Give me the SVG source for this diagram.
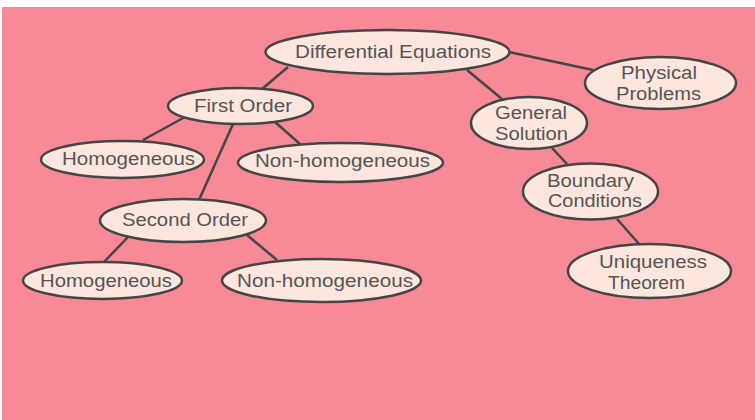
<svg xmlns="http://www.w3.org/2000/svg" width="755" height="420" viewBox="0 0 755 420">
<style>
.node ellipse{fill:#FDE6DD;stroke:#454545;stroke-width:2.5}
.node text{font-family:"Liberation Sans",Arial,sans-serif;font-size:18px;fill:#555;text-anchor:middle}
#edges line{stroke:#454545;stroke-width:2.5}
</style>
<rect x="0" y="0" width="755" height="420" fill="#ffffff"/>
<rect x="2" y="7" width="753" height="413" fill="#F78A96"/>
<g id="edges">
<line x1="288" y1="67" x2="262" y2="89"/>
<line x1="509" y1="52" x2="593" y2="70"/>
<line x1="467" y1="70" x2="502" y2="99"/>
<line x1="552" y1="148" x2="567" y2="164"/>
<line x1="617" y1="219" x2="640" y2="245"/>
<line x1="185" y1="117" x2="143" y2="140"/>
<line x1="275" y1="122" x2="300" y2="144"/>
<line x1="233" y1="124" x2="199" y2="200"/>
<line x1="128" y1="237" x2="103" y2="263"/>
<line x1="247" y1="235" x2="277" y2="260"/>
</g>
<g id="n-de" class="node"><ellipse cx="387.5" cy="52" rx="122" ry="22"/><text x="393" y="57.5" textLength="196" lengthAdjust="spacingAndGlyphs">Differential Equations</text></g>
<g id="n-first" class="node"><ellipse cx="240.5" cy="106" rx="72.5" ry="18"/><text x="243" y="112" textLength="98" lengthAdjust="spacingAndGlyphs">First Order</text></g>
<g id="n-phys" class="node"><ellipse cx="660.5" cy="83" rx="75.5" ry="26"/><text x="659" y="79" textLength="76" lengthAdjust="spacingAndGlyphs">Physical</text><text x="658.5" y="99.5" textLength="85" lengthAdjust="spacingAndGlyphs">Problems</text></g>
<g id="n-gen" class="node"><ellipse cx="529" cy="123" rx="58" ry="26"/><text x="531" y="119" textLength="72" lengthAdjust="spacingAndGlyphs">General</text><text x="531.5" y="139.5" textLength="73" lengthAdjust="spacingAndGlyphs">Solution</text></g>
<g id="n-bound" class="node"><ellipse cx="590.5" cy="191.5" rx="67.5" ry="28"/><text x="590.5" y="187" textLength="87" lengthAdjust="spacingAndGlyphs">Boundary</text><text x="595" y="207" textLength="94" lengthAdjust="spacingAndGlyphs">Conditions</text></g>
<g id="n-uniq" class="node"><ellipse cx="649.5" cy="271" rx="81.5" ry="27"/><text x="653" y="268" textLength="108" lengthAdjust="spacingAndGlyphs">Uniqueness</text><text x="646.5" y="288.5" textLength="77" lengthAdjust="spacingAndGlyphs">Theorem</text></g>
<g id="n-homo1" class="node"><ellipse cx="122.5" cy="159.5" rx="81.5" ry="18.5"/><text x="128.5" y="164.5" textLength="133" lengthAdjust="spacingAndGlyphs">Homogeneous</text></g>
<g id="n-nonhomo1" class="node"><ellipse cx="340.5" cy="162.5" rx="102.5" ry="19.5"/><text x="342.5" y="167" textLength="175" lengthAdjust="spacingAndGlyphs">Non-homogeneous</text></g>
<g id="n-second" class="node"><ellipse cx="183" cy="220.5" rx="83" ry="21.5"/><text x="185" y="226" textLength="126" lengthAdjust="spacingAndGlyphs">Second Order</text></g>
<g id="n-homo2" class="node"><ellipse cx="102.5" cy="280.5" rx="79.5" ry="18.5"/><text x="106" y="287" textLength="132" lengthAdjust="spacingAndGlyphs">Homogeneous</text></g>
<g id="n-nonhomo2" class="node"><ellipse cx="321.5" cy="280.5" rx="99.5" ry="21.5"/><text x="325" y="287" textLength="176" lengthAdjust="spacingAndGlyphs">Non-homogeneous</text></g>
</svg>
